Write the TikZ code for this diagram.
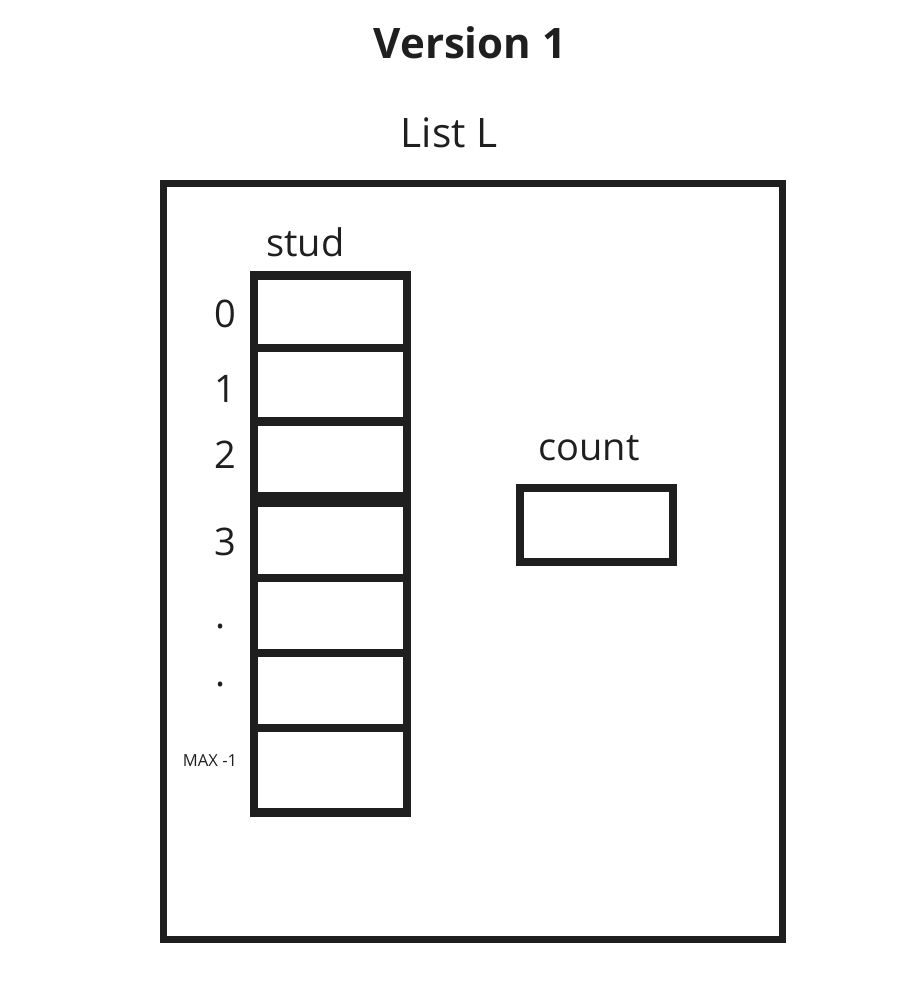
\documentclass[tikz,border=0pt]{standalone}
\usepackage{fontspec}
\setmainfont{Open Sans}
\usepackage{tikz}
\tikzset{
x=0.5pt, y=-0.5pt, % pixel-like units, y downwards
ink/.style={draw=black!88}, % colour of all strokes
cell/.style={ink, line width=4.2pt, minimum width=76.5pt, inner sep=0pt, outer sep=0pt, anchor=north}, % one slot of the array
lbl/.style={text=black!88, inner sep=0pt, anchor=base}, % text labels
}

\begin{document}
\begin{tikzpicture}
		\useasboundingbox (0,0) rectangle (924,1002);
		% titles
		\node[lbl, font=\fontsize{21}{25}\selectfont\bfseries] (title) at (470,58) {Version 1};
		\node[lbl, font=\fontsize{20.3}{24}\selectfont] (listname) at (449,147) {List L};
		% the struct
		\node[ink, line width=3.5pt, minimum width=309.5pt, minimum height=378pt, inner sep=0pt] (list) at (472.5,561) {};
		% array stud
		\node[lbl, font=\fontsize{19}{23}\selectfont] (stud) at (305.5,256) {stud};
		\node[cell, minimum height=36.25pt] (c0) at (330.5,275.5) {};
		\node[cell, minimum height=36.75pt] (c1) at (330.5,348) {};
		\node[cell, minimum height=39pt] (c2) at (330.5,421.5) {};
		\node[cell, minimum height=39.25pt] (c3) at (330.5,499.5) {};
		\node[cell, minimum height=37.5pt] (c4) at (330.5,578) {};
		\node[cell, minimum height=37.5pt] (c5) at (330.5,653) {};
		\node[cell, minimum height=42.25pt] (c6) at (330.5,728) {};
		\draw[ink, line width=7.5pt] (c2.south west) -- (c2.south east);
		% indices
		\node[lbl, font=\fontsize{19}{23}\selectfont] (i0) at (225.5,327) {0};
		\node[lbl, font=\fontsize{19}{23}\selectfont] (i1) at (225.5,402) {1};
		\node[lbl, font=\fontsize{19}{23}\selectfont] (i2) at (225.5,468) {2};
		\node[lbl, font=\fontsize{19}{23}\selectfont] (i3) at (225.5,555) {3};
		\node[lbl, font=\fontsize{19}{23}\selectfont] (i4) at (221,628) {.};
		\node[lbl, font=\fontsize{19}{23}\selectfont] (i5) at (221,686) {.};
		\node[lbl, font=\fontsize{8.3}{10}\selectfont] (i6) at (210,766) {MAX -1};
		% count
		\node[lbl, font=\fontsize{19}{23}\selectfont] (countname) at (589,460) {count};
		\node[ink, line width=4pt, minimum width=76.5pt, minimum height=37pt, inner sep=0pt] (count) at (596.5,524.5) {};
	\end{tikzpicture}
\end{document}
